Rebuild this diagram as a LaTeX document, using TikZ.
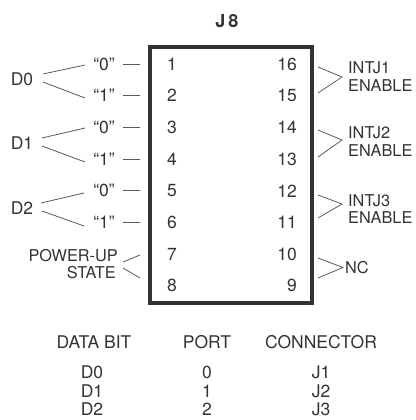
\documentclass[tikz,border=0pt]{standalone}
\usepackage{fontspec}
\setmainfont{TeX Gyre Heros}
\definecolor{ink}{HTML}{333333}
\definecolor{lineg}{HTML}{5A5A5A}
\begin{document}
\begin{tikzpicture}[x=1pt,y=-1pt,
  every node/.style={font=\fontsize{17.5}{17.5}\selectfont, text=ink, inner sep=0pt},
  small/.style={font=\fontsize{16.3}{16.3}\selectfont},
  ln/.style={draw=lineg, line width=0.8pt},
  boxline/.style={draw=ink, line width=4pt}]
\useasboundingbox[fill=white] (0,0) rectangle (415,420);
% title and box
\node[font=\fontsize{18}{18}\selectfont\bfseries] (j8) at (227,21) {J\,8};
\draw[boxline] (149.5,47.5) coordinate (boxnw) rectangle (311.5,302.5) coordinate (boxse);
% pin numbers
\foreach \i in {1,...,8}{
  \pgfmathsetmacro{\yy}{64+(\i-1)*31.7}
  \pgfmathtruncatemacro{\r}{17-\i}
  \node (L\i) at (172,\yy) {\i};
  \node[anchor=east] (R\r) at (297,\yy) {\r};
  \coordinate (pl\i) at (140,\yy);
  \coordinate (pr\r) at (318,\yy);
}
% quote labels
\foreach \i/\v in {1/0,2/1,3/0,4/1,5/0,6/1}{
  \pgfmathsetmacro{\yy}{64+(\i-1)*31.7}
  \node (q\i) at (104,\yy) {“\v”};
  \draw[ln] (123,\yy) coordinate (qd\i) -- (pl\i);
}
% data bit labels
\node (d0) at (22,79) {D0};
\node (d1) at (22,143) {D1};
\node (d2) at (22,208) {D2};
\draw[ln] (43,74) coordinate (d0a) -- (85,65) coordinate (q1e);
\draw[ln] (43,82) coordinate (d0b) -- (85,98) coordinate (q2e);
\draw[ln] (42,138) coordinate (d1a) -- (85,128) coordinate (q3e);
\draw[ln] (42,146) coordinate (d1b) -- (85,162) coordinate (q4e);
\draw[ln] (41,203) coordinate (d2a) -- (84,193) coordinate (q5e);
\draw[ln] (42,211) coordinate (d2b) -- (84,226) coordinate (q6e);
% power-up state
\node[small,anchor=east] (pu) at (118,255.5) {POWER-UP};
\node[small,anchor=east] (st) at (116,272.5) {STATE};
\draw[ln] (123,262) coordinate (pua) -- (140,255) coordinate (pub);
\draw[ln] (123,268) coordinate (sta) -- (140,278) coordinate (stb);
% right side labels
\node[small,anchor=west] (i1) at (348,67.5) {INTJ1};
\node[small,anchor=west] (e1) at (348,86) {ENABLE};
\node[small,anchor=west] (i2) at (348,132.5) {INTJ2};
\node[small,anchor=west] (e2) at (348,151) {ENABLE};
\node[small,anchor=west] (i3) at (348,201) {INTJ3};
\node[small,anchor=west] (e3) at (348,218) {ENABLE};
\node[small,anchor=west] (nc) at (345,268) {NC};
\draw[ln] (318,67) coordinate (c1a) -- (342,77) coordinate (c1m) -- (318,93) coordinate (c1b);
\draw[ln] (318,130) coordinate (c2a) -- (342,140) coordinate (c2m) -- (318,157) coordinate (c2b);
\draw[ln] (318,195) coordinate (c3a) -- (342,204) coordinate (c3m) -- (318,218) coordinate (c3b);
\draw[ln] (318,258) coordinate (c4a) -- (343,267.5) coordinate (c4m) -- (318,278) coordinate (c4b);
% table
\node (h1) at (94,342) {DATA BIT};
\node (h2) at (207,342) {PORT};
\node (h3) at (321,342) {CONNECTOR};
\foreach \k/\yy in {0/372,1/391,2/409}{
  \node (t\k a) at (92,\yy) {D\k};
  \node (t\k b) at (207,\yy) {\k};
  \pgfmathtruncatemacro{\jj}{\k+1}
  \node (t\k c) at (321,\yy) {J\jj};
}
\end{tikzpicture}
\end{document}
